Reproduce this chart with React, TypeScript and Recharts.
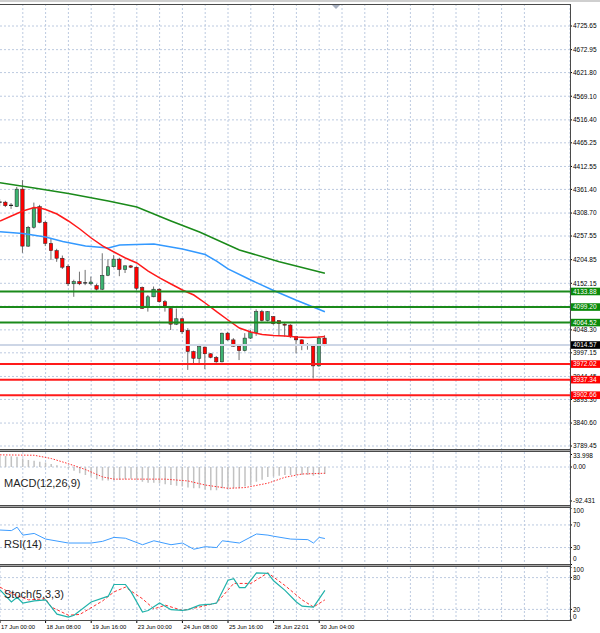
import React from 'react';
import { ComposedChart, Bar, Line, XAxis, YAxis, CartesianGrid, ReferenceLine } from 'recharts';

// H4 candles, 17 Jun 00:00 .. 30 Jun 08:00
const opens = [4332, 4333, 4325, 4323, 4362, 4235, 4277, 4323, 4288, 4241, 4225, 4208, 4190, 4151, 4156, 4152, 4151, 4147, 4139, 4170, 4189, 4206, 4183, 4191, 4188, 4143, 4100, 4122, 4139, 4111, 4096, 4061, 4073, 4047, 4000, 3985, 4010, 3995, 3987, 3977, 4041, 4026, 4012, 4002, 4030, 4042, 4089, 4069, 4078, 4069, 4061, 4059, 4033, 4026, 4013, 4012, 3968, 4030];
const highs = [4340, 4336, 4331, 4367, 4382, 4280, 4332, 4327, 4291, 4252, 4229, 4214, 4194, 4160, 4178, 4182, 4167, 4151, 4219, 4206, 4215, 4209, 4192, 4193, 4190, 4145, 4126, 4145, 4141, 4115, 4100, 4096, 4075, 4052, 4002, 4017, 4011, 3996, 3990, 4042, 4044, 4030, 4014, 4041, 4048, 4094, 4093, 4090, 4079, 4070, 4064, 4061, 4035, 4027, 4019, 4014, 4035, 4036];
const lows = [4324, 4322, 4318, 4322, 4220, 4233, 4274, 4286, 4235, 4204, 4200, 4184, 4146, 4122, 4148, 4148, 4148, 4136, 4137, 4168, 4187, 4168, 4175, 4186, 4136, 4095, 4089, 4121, 4109, 4089, 4048, 4059, 4039, 3959, 3970, 3970, 3961, 3985, 3975, 3976, 4024, 4011, 3981, 4000, 4028, 4035, 4067, 4067, 4060, 4037, 4033, 4030, 3996, 4003, 4004, 3940, 3966, 4012];
const closes = [4333, 4325, 4326, 4362, 4235, 4277, 4320, 4288, 4241, 4225, 4208, 4188, 4151, 4156, 4151, 4153, 4155, 4139, 4170, 4189, 4206, 4183, 4191, 4188, 4141, 4096, 4122, 4139, 4111, 4102, 4061, 4073, 4044, 4000, 3985, 4011, 3995, 3987, 3977, 4041, 4026, 4012, 4002, 4030, 4042, 4089, 4069, 4089, 4062, 4062, 4059, 4033, 4026, 4015, 4014, 3968, 4030, 4014.57];

const timeLabels = ['17 Jun 00:00', '18 Jun 08:00', '19 Jun 16:00', '23 Jun 00:00', '24 Jun 08:00', '25 Jun 16:00', '28 Jun 22:01', '30 Jun 04:00'];
const priceTicks = [4725.65, 4672.95, 4621.8, 4569.1, 4516.4, 4465.25, 4412.55, 4361.4, 4308.7, 4257.55, 4204.85, 4152.15, 4101.0, 4048.3, 3997.15, 3944.45, 3893.3, 3840.6, 3789.45];

const greenLevels = [4133.88, 4099.2, 4064.52];
const redLevels = [3972.02, 3937.34, 3902.66];
const lastPrice = 4014.57;

// moving averages (read at sampled candles)
const fastMaIdx = [0, 2, 4, 6, 7, 8, 10, 12, 14, 16, 18, 20, 22, 24, 26, 28, 30, 32, 34, 36, 38, 40, 42, 44, 46, 48, 50, 52, 54, 56, 57];
const fastMa = [4291.0, 4302.1, 4313.3, 4321.1, 4320.0, 4316.6, 4306.6, 4291.0, 4273.2, 4253.1, 4235.3, 4221.9, 4208.5, 4197.4, 4179.5, 4164.0, 4150.6, 4137.2, 4126.0, 4108.2, 4088.8, 4070.3, 4052.5, 4043.6, 4038.0, 4035.8, 4034.7, 4032.4, 4031.3, 4032.4, 4033.5];
const midMaIdx = [0, 4, 8, 11, 15, 19, 21, 27, 32, 36, 38, 40, 44, 48, 52, 57];
const midMa = [4267.1, 4263.1, 4255.3, 4245.3, 4235.3, 4230.8, 4237.5, 4239.7, 4228.6, 4216.3, 4201.8, 4184.2, 4159.5, 4136.0, 4114.2, 4088.8];
const slowMaIdx = [0, 6, 12, 19, 24, 30, 35, 42, 49, 57];
const slowMa = [4376.4, 4364.5, 4352.3, 4335.6, 4322.2, 4291.0, 4266.5, 4226.4, 4200.3, 4174.4];

const macdHist = [30, 30, 29, 28, 23, 19, 17, 14, 12, 8, 5, 0, -4, -10, -17, -22, -26, -33, -37, -37, -36, -35, -33, -32, -35, -40, -43, -43, -45, -47, -49, -51, -53, -56, -58, -58, -61, -63, -63, -58, -58, -58, -58, -53, -49, -40, -35, -27, -26, -24, -22, -22, -22, -22, -22, -24, -21, -19];
const macdSigIdx = [0, 6, 9, 12, 15, 18, 20, 24, 29, 33, 36, 40, 43, 47, 50, 53, 57];
const macdSig = [33, 32, 23, 9, -7, -27, -33, -33, -33, -38, -49, -58, -56, -44, -28, -19, -17];

const rsiIdx = [0, 2, 3, 4, 6, 8, 12, 16, 18, 20, 22, 25, 27, 30, 32, 34, 36, 38, 39, 42, 45, 47, 48, 51, 54, 55, 56, 57];
const rsiVals = [61, 60, 66, 52, 55, 45, 38, 38, 41, 48, 46.5, 35, 42, 35, 38, 27, 31.5, 30, 42, 38, 54, 52, 50, 45, 44, 38, 48, 46];

const stochIdx = [0, 2, 3, 4, 6, 8, 10, 12, 13, 16, 19, 20, 22, 23, 25, 26, 28, 30, 32, 33, 35, 37, 38, 40, 41, 42, 43, 45, 47, 48, 50, 52, 53, 55, 57];
const stochMain = [57, 34, 43, 32, 36, 38, 11, 5.5, 9, 34, 45, 67, 67, 53, 15, 18, 32, 19.5, 18, 19.5, 28, 30, 32, 75, 78, 61, 61, 89, 88, 74, 56, 34, 26, 24.5, 56];
const stochSigIdx = [0, 2, 5, 8, 9, 12, 14, 18, 20, 22, 25, 27, 29, 32, 35, 38, 41, 44, 47, 50, 53, 55, 57];
const stochSig = [62, 50, 38, 40, 24.5, 9, 10.5, 36, 53, 62, 40, 21, 28, 18, 24.5, 32, 69, 69, 89, 65, 38, 24.5, 38];

const candles = opens.map((o, i) => ({ i, o, h: highs[i], l: lows[i], c: closes[i], range: [lows[i], highs[i]] }));
const macdData = macdHist.map((v, i) => ({ i, hist: v }));
const pts = (idx: number[], vals: number[]) => idx.map((i, k) => ({ i, v: vals[k] }));
const vGrid = Array.from({ length: 26 }, (_, k) => k * 4);
const timeTicks = timeLabels.map((_, k) => k * 8);

// tags drawn last so they sit over the plain price labels
const tagColor: Record<string, string> = { [lastPrice.toFixed(2)]: '#000' };
greenLevels.forEach((v) => (tagColor[v.toFixed(2)] = '#0a8a0a'));
redLevels.forEach((v) => (tagColor[v.toFixed(2)] = '#ff0000'));
const axisTicks = [...priceTicks, lastPrice, ...greenLevels, ...redLevels];

const FONT = "'Liberation Sans', Arial, sans-serif";
const GRID = '#bccae0';
const M = { top: 0, right: 0, bottom: 0, left: 0 };

const priceFmt = (v: number) => v.toFixed(2);

function Candle(props: any) {
  const { x, y, width, height, payload } = props;
  if (x == null || !payload) return null;
  const { o, h, l, c } = payload;
  const cx = x + width / 2;
  const py = (p: number) => y + ((h - p) / (h - l)) * height;
  const top = py(Math.max(o, c));
  const bot = py(Math.min(o, c));
  const doji = Math.abs(c - o) < 1.5;
  return (
    <g>
      <line x1={cx} x2={cx} y1={y} y2={y + height} stroke="#707070" strokeWidth={1} />
      {doji ? (
        <line x1={cx - 2} x2={cx + 2} y1={top} y2={top} stroke="#222" strokeWidth={1.2} />
      ) : (
        <rect x={cx - 1.7} y={top} width={3.4} height={Math.max(bot - top, 1)} fill={c > o ? '#3cb371' : '#ff0000'} stroke="#222" strokeWidth={0.5} />
      )}
    </g>
  );
}

function AxisTick(props: any) {
  const { x, y, payload, fmt, lo = -1e9, hi = 1e9 } = props;
  const label = fmt(payload.value);
  const bg = tagColor[label];
  if (bg && fmt === priceFmt) {
    return (
      <g>
        <rect x={x - 2} y={y - 3.8} width={30} height={7.6} fill={bg} />
        <text x={x} y={y} dy="0.35em" fontSize={6.5} fontFamily={FONT} fill="#fff" textAnchor="start">{label}</text>
      </g>
    );
  }
  const yy = Math.min(Math.max(y, lo), hi);
  return (
    <text x={x} y={yy} dy="0.35em" fontSize={6.5} fontFamily={FONT} fill="#000" textAnchor="start">
      {label}
    </text>
  );
}

function TimeTick(props: any) {
  const { x, y, payload } = props;
  return (
    <text x={x + 1} y={y + 3.5} fontSize={5.9} fontFamily={FONT} fill="#000" textAnchor="start">
      {timeLabels[payload.value / 8]}
    </text>
  );
}

function Sep({ y }: { y: number }) {
  return (
    <>
      <div style={{ position: 'absolute', left: 0, top: y, width: 571, height: 1, background: '#4a4a4a' }} />
      <div style={{ position: 'absolute', left: 0, top: y + 1, width: 571, height: 1, background: '#a8a8a8' }} />
      <div style={{ position: 'absolute', left: 0, top: y + 2, width: 571, height: 1, background: '#4a4a4a' }} />
    </>
  );
}

function Title({ text, y }: { text: string; y: number }) {
  return <div style={{ position: 'absolute', left: 4, top: y, fontFamily: FONT, fontSize: 11, color: '#1e1e1e', lineHeight: '12px' }}>{text}</div>;
}

export default function App() {
  return (
    <div style={{ position: 'fixed', left: 0, top: 0, width: 600, height: 633, background: '#fff', overflow: 'hidden' }}>
      <div style={{ position: 'absolute', left: 0, top: 0, width: 600, height: 1.5, background: '#cfcfcf' }} />

      {/* price pane */}
      <div style={{ position: 'absolute', left: 0, top: 4 }}>
        <ComposedChart width={600} height={445.5} data={candles} margin={M}>
          <CartesianGrid stroke={GRID} strokeDasharray="2 2" horizontalValues={priceTicks} verticalValues={vGrid} />
          <XAxis type="number" dataKey="i" domain={[0, 100]} hide allowDataOverflow />
          <YAxis orientation="right" width={30} type="number" domain={[3781.65, 4774.69]} ticks={axisTicks} interval={0} allowDataOverflow axisLine={false} tickLine={{ stroke: '#000' }} tickSize={2} tickMargin={1} tick={<AxisTick fmt={priceFmt} />} />
          <ReferenceLine y={lastPrice} stroke="#cdd6e6" strokeWidth={2} />
          <Bar dataKey="range" barSize={5} shape={<Candle />} isAnimationActive={false} />
          <Line data={pts(slowMaIdx, slowMa)} dataKey="v" stroke="#1a8a1a" strokeWidth={1.5} dot={false} isAnimationActive={false} />
          <Line data={pts(midMaIdx, midMa)} dataKey="v" stroke="#3399ff" strokeWidth={1.5} dot={false} isAnimationActive={false} />
          <Line data={pts(fastMaIdx, fastMa)} dataKey="v" stroke="#ff1a1a" strokeWidth={1.5} dot={false} isAnimationActive={false} />
          {greenLevels.map((v) => (
            <ReferenceLine key={v} y={v} stroke="#1a8a1a" strokeWidth={2} />
          ))}
          {redLevels.map((v) => (
            <ReferenceLine key={v} y={v} stroke="#ff1a1a" strokeWidth={2} />
          ))}
        </ComposedChart>
      </div>

      {/* MACD pane */}
      <div style={{ position: 'absolute', left: 0, top: 452 }}>
        <ComposedChart width={600} height={52.5} data={macdData} margin={M}>
          <CartesianGrid stroke={GRID} strokeDasharray="2 2" horizontalValues={[0]} verticalValues={vGrid} />
          <XAxis type="number" dataKey="i" domain={[0, 100]} hide allowDataOverflow />
          <YAxis orientation="right" width={30} type="number" domain={[-102, 40.8]} ticks={[33.998, 0, -92.431]} interval={0} allowDataOverflow axisLine={false} tickLine={{ stroke: '#000' }} tickSize={2} tickMargin={1} tick={<AxisTick lo={4} hi={50} fmt={(v: number) => (v === 0 ? '0.00' : String(v))} />} />
          <Bar dataKey="hist" barSize={1.5} fill="#c2c2c2" isAnimationActive={false} />
          <Line data={pts(macdSigIdx, macdSig)} dataKey="v" stroke="#ff3030" strokeWidth={1} strokeDasharray="1.5 1.5" dot={false} isAnimationActive={false} />
        </ComposedChart>
      </div>

      {/* RSI pane */}
      <div style={{ position: 'absolute', left: 0, top: 508 }}>
        <ComposedChart width={600} height={56.5} data={candles} margin={M}>
          <CartesianGrid stroke={GRID} strokeDasharray="2 2" horizontalValues={[70, 30]} verticalValues={vGrid} />
          <XAxis type="number" dataKey="i" domain={[0, 100]} hide allowDataOverflow />
          <YAxis orientation="right" width={30} type="number" domain={[0, 100]} ticks={[100, 70, 30, 0]} interval={0} allowDataOverflow axisLine={false} tickLine={{ stroke: '#000' }} tickSize={2} tickMargin={1} tick={<AxisTick lo={3} hi={51} fmt={(v: number) => String(v)} />} />
          <Line data={pts(rsiIdx, rsiVals)} dataKey="v" stroke="#3d9cff" strokeWidth={1} dot={false} isAnimationActive={false} />
        </ComposedChart>
      </div>

      {/* Stochastic pane + time axis */}
      <div style={{ position: 'absolute', left: 0, top: 566.5 }}>
        <ComposedChart width={600} height={66} data={candles} margin={M}>
          <CartesianGrid stroke={GRID} strokeDasharray="2 2" horizontalValues={[80, 20]} verticalValues={vGrid} />
          <XAxis type="number" dataKey="i" domain={[0, 100]} ticks={timeTicks} interval={0} height={13} axisLine={false} tickLine={{ stroke: '#000' }} tickSize={3} tickMargin={2} tick={<TimeTick />} allowDataOverflow />
          <YAxis orientation="right" width={30} type="number" domain={[0, 100]} ticks={[100, 80, 20, 0]} interval={0} allowDataOverflow axisLine={false} tickLine={{ stroke: '#000' }} tickSize={2} tickMargin={1} tick={<AxisTick lo={3} hi={49.4} fmt={(v: number) => String(v)} />} />
          <Line data={pts(stochSigIdx, stochSig)} dataKey="v" stroke="#ff3030" strokeWidth={1} strokeDasharray="3 2" dot={false} isAnimationActive={false} />
          <Line data={pts(stochIdx, stochMain)} dataKey="v" stroke="#20b2aa" strokeWidth={1.2} dot={false} isAnimationActive={false} />
        </ComposedChart>
      </div>

      {/* frame */}
      <div style={{ position: 'absolute', left: 0, top: 4, width: 571, height: 1, background: '#4a4a4a' }} />
      <Sep y={449} />
      <Sep y={504.5} />
      <Sep y={564} />
      <div style={{ position: 'absolute', left: 0, top: 619.5, width: 571, height: 1, background: '#4a4a4a' }} />
      <div style={{ position: 'absolute', left: 570, top: 4, width: 1, height: 616, background: '#4a4a4a' }} />
      <svg style={{ position: 'absolute', left: 332, top: 5 }} width={8} height={5}>
        <polygon points="0,0 8,0 4,4" fill="#a8b0c0" />
      </svg>

      <Title text="MACD(12,26,9)" y={477} />
      <Title text="RSI(14)" y={538} />
      <Title text="Stoch(5,3,3)" y={588} />
    </div>
  );
}
